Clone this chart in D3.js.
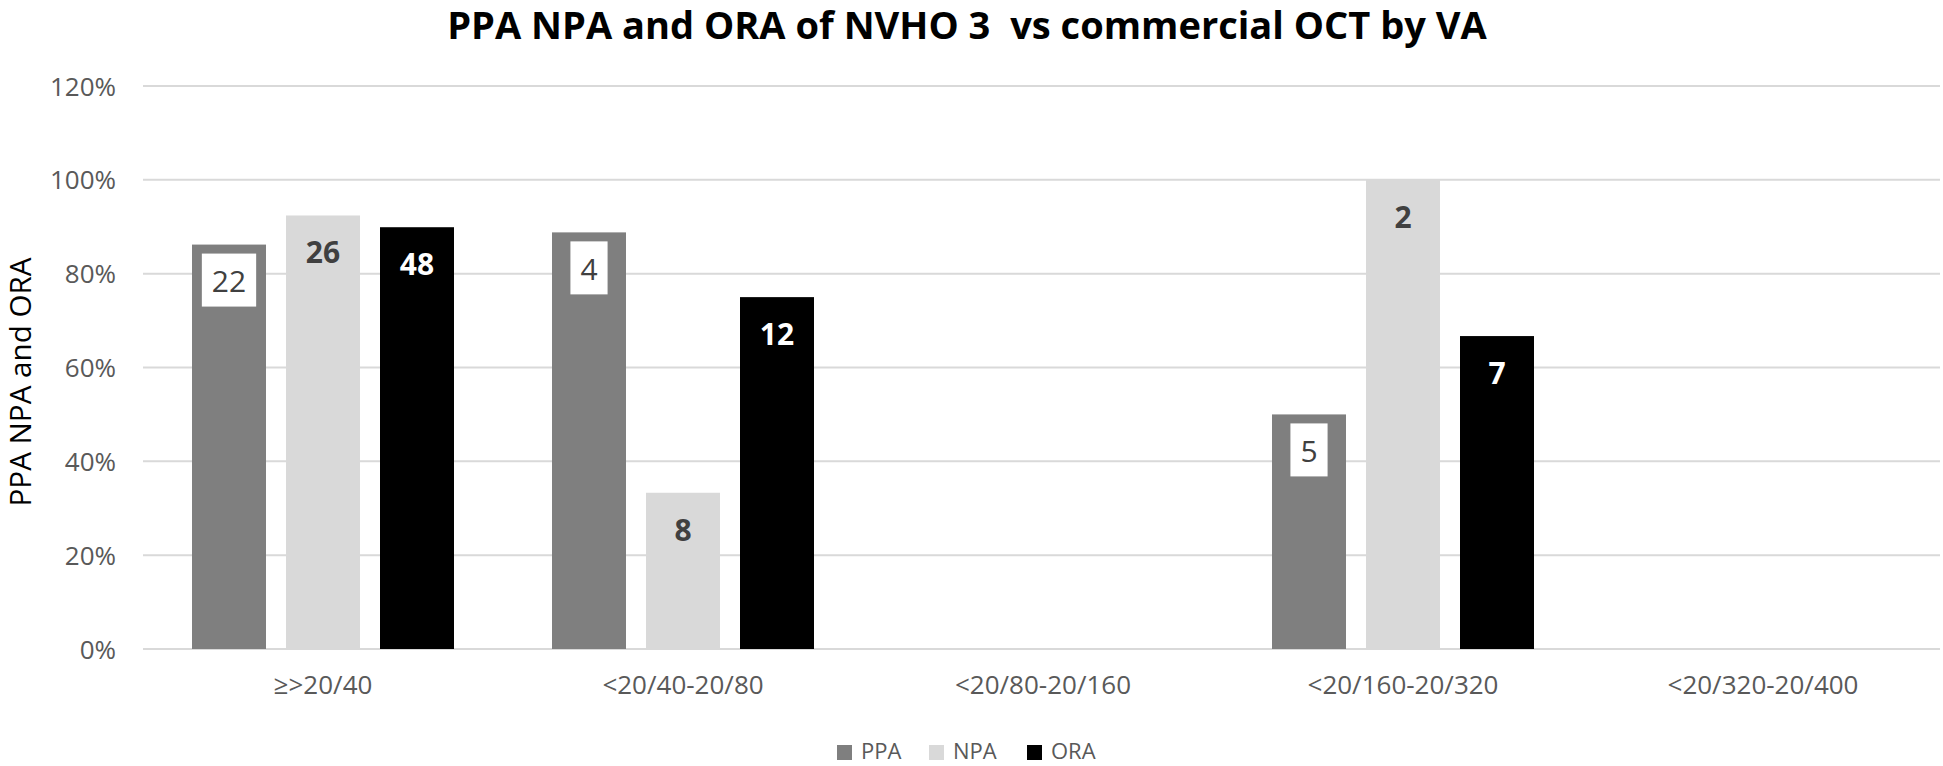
<!DOCTYPE html>
<html>
<head>
<meta charset="utf-8">
<script src="https://cdn.jsdelivr.net/npm/d3@7"></script>
<style>
  html, body { margin: 0; padding: 0; background: #fff; }
  svg { display: block; font-family: "Open Sans", sans-serif; }
</style>
</head>
<body>
<svg id="chart" width="1943" height="766"></svg>
<script>
// ---- data ----
const categories = ["≥>20/40", "<20/40-20/80", "<20/80-20/160", "<20/160-20/320", "<20/320-20/400"];
const seriesNames = ["PPA", "NPA", "ORA"];
const ppaValues = [0.862, 0.888, null, 0.500, null];
const npaValues = [0.924, 0.333, null, 1.000, null];
const oraValues = [0.899, 0.750, null, 0.667, null];
const ppaLabels = ["22", "4", null, "5", null];
const npaLabels = ["26", "8", null, "2", null];
const oraLabels = ["48", "12", null, "7", null];
const yTickValues = [0, 0.2, 0.4, 0.6, 0.8, 1.0, 1.2];
const titleText = "PPA NPA and ORA of NVHO 3  vs commercial OCT by VA";
const yTitleText = "PPA NPA and ORA";

const colors = { PPA: "#7f7f7f", NPA: "#d9d9d9", ORA: "#000000" };

const svg = d3.select("#chart");
const plot = { left: 143, right: 1943, top: 86, bottom: 649 };

const x0 = d3.scaleBand().domain(categories).range([plot.left, plot.right]).paddingInner(0).paddingOuter(0);
const groupW = 262;
const x1 = d3.scaleBand().domain(seriesNames).range([-groupW / 2, groupW / 2]).paddingInner(20 / 94).paddingOuter(0);
const y = d3.scaleLinear().domain([0, 1.2]).range([plot.bottom, plot.top]);

// gridlines
svg.append("g").selectAll("line").data(yTickValues).join("line")
  .attr("x1", plot.left).attr("x2", 1940)
  .attr("y1", d => y(d)).attr("y2", d => y(d))
  .attr("stroke", "#d9d9d9").attr("stroke-width", 2);

// y axis tick labels
const yAxis = d3.axisLeft(y).tickValues(yTickValues).tickFormat(d3.format(".0%")).tickSize(0).tickPadding(0);
const yg = svg.append("g").attr("transform", `translate(116,0)`).call(yAxis);
yg.select(".domain").remove();
yg.selectAll("text").attr("font-size", 26).attr("fill", "#595959")
  .attr("font-family", "Open Sans, sans-serif").attr("dy", "0.35em");

// x axis category labels
const xAxis = d3.axisBottom(x0).tickSize(0).tickPadding(0);
const xg = svg.append("g").attr("transform", `translate(0,${plot.bottom})`).call(xAxis);
xg.select(".domain").remove();
xg.selectAll("text").attr("font-size", 26).attr("fill", "#595959")
  .attr("font-family", "Open Sans, sans-serif").attr("y", 45).attr("dy", "0");

// bars
const seriesData = [
  { name: "PPA", values: ppaValues, labels: ppaLabels },
  { name: "NPA", values: npaValues, labels: npaLabels },
  { name: "ORA", values: oraValues, labels: oraLabels }
];
const barItems = [];
seriesData.forEach(s => {
  categories.forEach((c, i) => {
    if (s.values[i] != null) barItems.push({ series: s.name, cat: c, value: s.values[i], label: s.labels[i] });
  });
});
const cx = d => x0(d.cat) + x0.bandwidth() / 2 + x1(d.series);

svg.append("g").selectAll("rect").data(barItems).join("rect")
  .attr("x", cx)
  .attr("y", d => y(d.value))
  .attr("width", x1.bandwidth())
  .attr("height", d => y(0) - y(d.value))
  .attr("fill", d => colors[d.series]);

// data labels
const lg = svg.append("g");
barItems.forEach(d => {
  const mx = cx(d) + x1.bandwidth() / 2;
  const ty = y(d.value) + 37;
  const t = lg.append("text")
    .attr("x", mx).attr("y", ty).attr("dy", "0.36em")
    .attr("text-anchor", "middle")
    .attr("font-size", 30)
    .text(d.label);
  if (d.series === "PPA") {
    t.attr("fill", "#404040").attr("font-weight", 400);
    const w = t.node().getComputedTextLength();
    lg.insert("rect", () => t.node())
      .attr("x", mx - w / 2 - 10).attr("y", y(d.value) + 9)
      .attr("width", w + 20).attr("height", 53)
      .attr("fill", "#ffffff");
  } else if (d.series === "NPA") {
    t.attr("fill", "#404040").attr("font-weight", 700);
  } else {
    t.attr("fill", "#ffffff").attr("font-weight", 700);
  }
});

// title
const title = svg.append("text")
  .attr("x", 967).attr("y", 39)
  .attr("text-anchor", "middle")
  .attr("font-weight", 700).attr("fill", "#000")
  .attr("font-size", 32)
  .style("white-space", "pre")
  .attr("xml:space", "preserve")
  .text(titleText);
{
  const w = title.node().getComputedTextLength();
  title.attr("font-size", 32 * 1040 / w);
}

// y title
const yTitle = svg.append("text")
  .attr("transform", `translate(31,382) rotate(-90)`)
  .attr("text-anchor", "middle")
  .attr("fill", "#000")
  .attr("font-size", 28)
  .text(yTitleText);
{
  const w = yTitle.node().getComputedTextLength();
  yTitle.attr("font-size", 28 * 249 / w);
}

// legend
const legendPos = [837, 929, 1027];
const leg = svg.append("g");
const legX = d3.scaleOrdinal().domain(seriesNames).range(legendPos);
seriesNames.forEach(n => {
  leg.append("rect").attr("x", legX(n)).attr("y", 745).attr("width", 15).attr("height", 15).attr("fill", colors[n]);
  leg.append("text").attr("x", legX(n) + 24).attr("y", 759)
    .attr("font-size", 22).attr("fill", "#595959").text(n);
});
</script>
</body>
</html>
